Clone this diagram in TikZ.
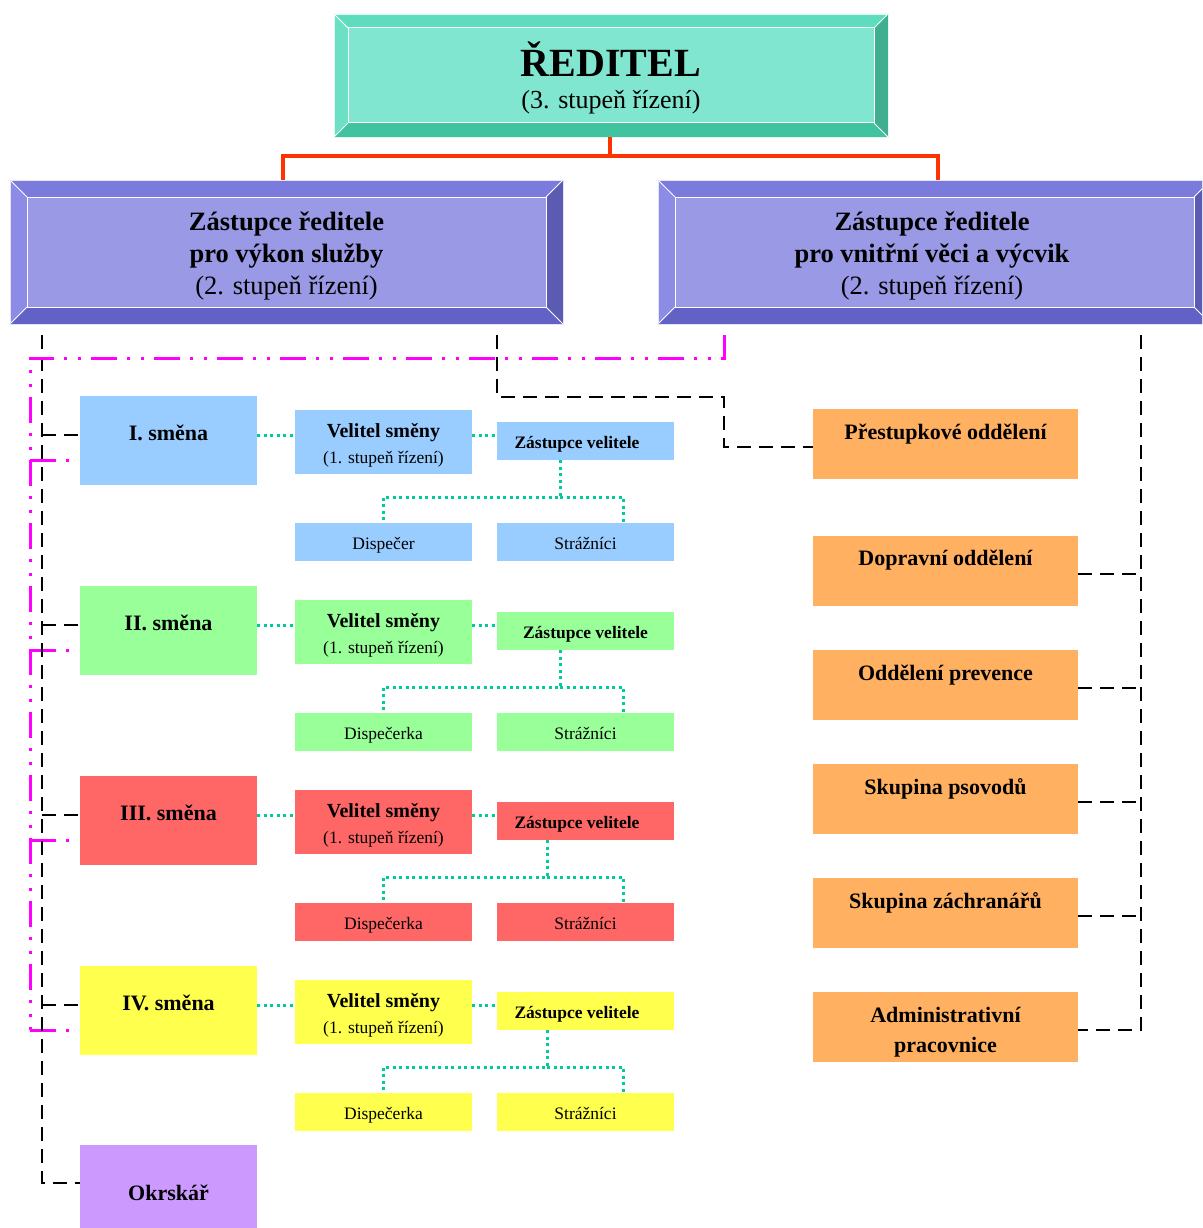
\documentclass[tikz,border=0pt]{standalone}
\usepackage{fontspec}
\setmainfont{Liberation Serif}
\definecolor{tealF}{HTML}{80E6CF}
\definecolor{tealT}{HTML}{5DDDBD}
\definecolor{tealL}{HTML}{6BE0C5}
\definecolor{tealB}{HTML}{40C4A0}
\definecolor{tealR}{HTML}{3FAF90}
\definecolor{purF}{HTML}{9999E6}
\definecolor{purT}{HTML}{7B7BDE}
\definecolor{purL}{HTML}{8C8CE6}
\definecolor{purB}{HTML}{6161C6}
\definecolor{purR}{HTML}{5B5BB2}
\definecolor{blueS}{HTML}{99CCFF}
\definecolor{greenS}{HTML}{99FF99}
\definecolor{redS}{HTML}{FF6666}
\definecolor{yellowS}{HTML}{FFFF4D}
\definecolor{violetS}{HTML}{CC99FF}
\definecolor{orangeS}{HTML}{FFB060}
\definecolor{redLine}{HTML}{FF3300}
\definecolor{dotCol}{HTML}{00CC99}
\definecolor{magCol}{HTML}{FF00FF}
\newcommand\fsz[1]{\fontsize{#1}{#1}\selectfont}
\newcommand\bevbox[6]{%
\fill[#3] (#1.north west) -- (#1.north east) -- ([xshift=-#2pt,yshift=-#2pt]#1.north east) -- ([xshift=#2pt,yshift=-#2pt]#1.north west) -- cycle;
\fill[#4] (#1.north east) -- (#1.south east) -- ([xshift=-#2pt,yshift=#2pt]#1.south east) -- ([xshift=-#2pt,yshift=-#2pt]#1.north east) -- cycle;
\fill[#5] (#1.south east) -- (#1.south west) -- ([xshift=#2pt,yshift=#2pt]#1.south west) -- ([xshift=-#2pt,yshift=#2pt]#1.south east) -- cycle;
\fill[#6] (#1.south west) -- (#1.north west) -- ([xshift=#2pt,yshift=-#2pt]#1.north west) -- ([xshift=#2pt,yshift=#2pt]#1.south west) -- cycle;
\draw[white,line width=1pt] ([xshift=#2pt,yshift=-#2pt]#1.north west) rectangle ([xshift=-#2pt,yshift=#2pt]#1.south east);
\draw[white,line width=1pt] (#1.north west) -- ([xshift=#2pt,yshift=-#2pt]#1.north west)
  (#1.north east) -- ([xshift=-#2pt,yshift=-#2pt]#1.north east)
  (#1.south east) -- ([xshift=-#2pt,yshift=#2pt]#1.south east)
  (#1.south west) -- ([xshift=#2pt,yshift=#2pt]#1.south west);
\draw[white!80!#3,line width=0.8pt] (#1.north west) rectangle (#1.south east);
}
\begin{document}
\begin{tikzpicture}[x=1pt,y=-1pt,
  box/.style={rectangle,inner sep=0pt,outer sep=0pt,draw=none},
  txt/.style={inner sep=0pt,outer sep=0pt,anchor=base,align=center},
  blackdash/.style={black,line width=2pt,dash pattern=on 14pt off 8pt},
  magdash/.style={magCol,line width=3pt,dash pattern=on 26pt off 10pt on 3pt off 11pt on 3pt off 10pt},
  tealdot/.style={dotCol,line width=3pt,dash pattern=on 3pt off 3.5pt},
  redcon/.style={redLine,line width=4pt,line join=miter}]
\useasboundingbox (0,0) rectangle (1202,1228);
\clip (0,0) rectangle (1202,1228);

% director
\node[box,fill=tealF,minimum width=554pt,minimum height=123pt] (ted) at (611,75.5) {};
\bevbox{ted}{14}{tealT}{tealR}{tealB}{tealL}
\node[txt,font=\fsz{40}\bfseries] (tedA) at (611,77) {ŘEDITEL};
\node[txt,font=\fsz{26}] (tedB) at (611,109) {(3. stupeň řízení)};

% deputies
\node[box,fill=purF,minimum width=553pt,minimum height=144pt] (zl) at (286.5,252) {};
\bevbox{zl}{17}{purT}{purR}{purB}{purL}
\node[txt,font=\fsz{26.5}\bfseries] (zlA) at (286.5,230) {Zástupce ředitele};
\node[txt,font=\fsz{26.5}\bfseries] (zlB) at (286.5,262) {pro výkon služby};
\node[txt,font=\fsz{26.5}] (zlC) at (286.5,294) {(2. stupeň řízení)};

\node[box,fill=purF,minimum width=553pt,minimum height=144pt] (zr) at (934.5,252) {};
\bevbox{zr}{17}{purT}{purR}{purB}{purL}
\node[txt,font=\fsz{26.5}\bfseries] (zrA) at (932,230) {Zástupce ředitele};
\node[txt,font=\fsz{26.5}\bfseries] (zrB) at (932,262) {pro vnitřní věci a výcvik};
\node[txt,font=\fsz{26.5}] (zrC) at (932,294) {(2. stupeň řízení)};

% red connector
\coordinate (rj) at (610,156);
\draw[redcon] (ted.south -| rj) -- (rj);
\draw[redcon] (rj) -| ([xshift=-3.5pt]zl.north);
\draw[redcon] (rj) -| ([xshift=3.5pt]zr.north);

% orange departments
\foreach \j/\yc in {1/444,2/571,3/685,4/799,5/913,6/1027}{
  \node[box,fill=orangeS,minimum width=265pt,minimum height=70pt] (o\j) at (945.5,\yc) {};
}
\node[txt,font=\fsz{22}\bfseries] (o1t) at (945.5,439) {Přestupkové oddělení};
\node[txt,font=\fsz{22}\bfseries] (o2t) at (945.5,565) {Dopravní oddělení};
\node[txt,font=\fsz{22}\bfseries] (o3t) at (945.5,680) {Oddělení prevence};
\node[txt,font=\fsz{22}\bfseries] (o4t) at (945.5,794) {Skupina psovodů};
\node[txt,font=\fsz{22}\bfseries] (o5t) at (945.5,908) {Skupina záchranářů};
\node[txt,font=\fsz{22}\bfseries] (o6t) at (945.5,1022) {Administrativní};
\node[txt,font=\fsz{22}\bfseries] (o6u) at (945.5,1052) {pracovnice};

% Okrskar
\node[box,fill=violetS,minimum width=177pt,minimum height=84pt] (okr) at (168.5,1187) {};
\node[txt,font=\fsz{22}\bfseries] (okrt) at (168.5,1200) {Okrskář};

% shifts
\foreach \i/\col/\nm/\disp/\jx/\zx in {1/blueS/I./Dispečer/560/577,2/greenS/II./Dispečerka/560/585.5,3/redS/III./Dispečerka/547/577,4/yellowS/IV./Dispečerka/547/577}{
  \pgfmathsetmacro\yo{190*(\i-1)}
  \node[box,fill=\col,minimum width=177pt,minimum height=89pt] (s\i) at (168.5,440.5+\yo) {};
  \node[box,fill=\col,minimum width=177pt,minimum height=64pt] (v\i) at (383.5,442+\yo) {};
  \node[box,fill=\col,minimum width=177pt,minimum height=38pt] (z\i) at (585.5,441+\yo) {};
  \node[box,fill=\col,minimum width=177pt,minimum height=38pt] (d\i) at (383.5,542+\yo) {};
  \node[box,fill=\col,minimum width=177pt,minimum height=38pt] (st\i) at (585.5,542+\yo) {};
  \node[txt,font=\fsz{22}\bfseries] (s\i t) at (168.5,440+\yo) {\nm\ směna};
  \node[txt,font=\fsz{20}\bfseries] (v\i t) at (383.5,437+\yo) {Velitel směny};
  \node[txt,font=\fsz{17.5}] (v\i u) at (383.5,463+\yo) {(1. stupeň řízení)};
  \node[txt,font=\fsz{17.5}\bfseries] (z\i t) at (\zx,448+\yo) {Zástupce velitele};
  \node[txt,font=\fsz{17.5}] (d\i t) at (383.5,549+\yo) {\disp};
  \node[txt,font=\fsz{17.5}] (st\i t) at (585.5,549+\yo) {Strážníci};
  % connectors
  \coordinate (b\i) at (42,435+\yo);
  \draw[blackdash] (b\i) -- (b\i -| s\i.west);
  \coordinate (t\i) at (0,435+\yo);
  \draw[tealdot] (s\i.east |- t\i) -- (v\i.west |- t\i);
  \draw[tealdot] (v\i.east |- t\i) -- (z\i.west |- t\i);
  \coordinate (j\i) at (\jx,497+\yo);
  \draw[tealdot] (z\i.south -| j\i) -- (j\i) -| ([xshift=-0.5pt]d\i.north);
  \draw[tealdot] (j\i) -| ([xshift=37.5pt]st\i.north);
  \coordinate (m\i) at (30,460+\yo);
  \draw[magdash] (m\i) -- (m\i -| s\i.west);
}

% black dashed trunks
\coordinate (tl) at (42,335);
\draw[blackdash] (tl) |- ([yshift=4.5pt]okr.west);
\coordinate (tm) at (497,335);
\coordinate (tm2) at (724,397);
\draw[blackdash] (tm) |- (tm2) |- ([yshift=-3pt]o1.west);
\coordinate (tr) at (1141,335);
\draw[blackdash] (tr) |- ([yshift=-3pt]o6.east);
\foreach \j in {2,3,4,5}{
  \coordinate (e\j) at ([yshift=-3pt]o\j.east);
  \draw[blackdash] (e\j) -- (e\j -| tr);
}

% magenta
\coordinate (mg) at (724,335);
\coordinate (mc) at (30,358);
\draw[magdash] (mg) |- (mc) -- (m4);
\end{tikzpicture}
\end{document}
